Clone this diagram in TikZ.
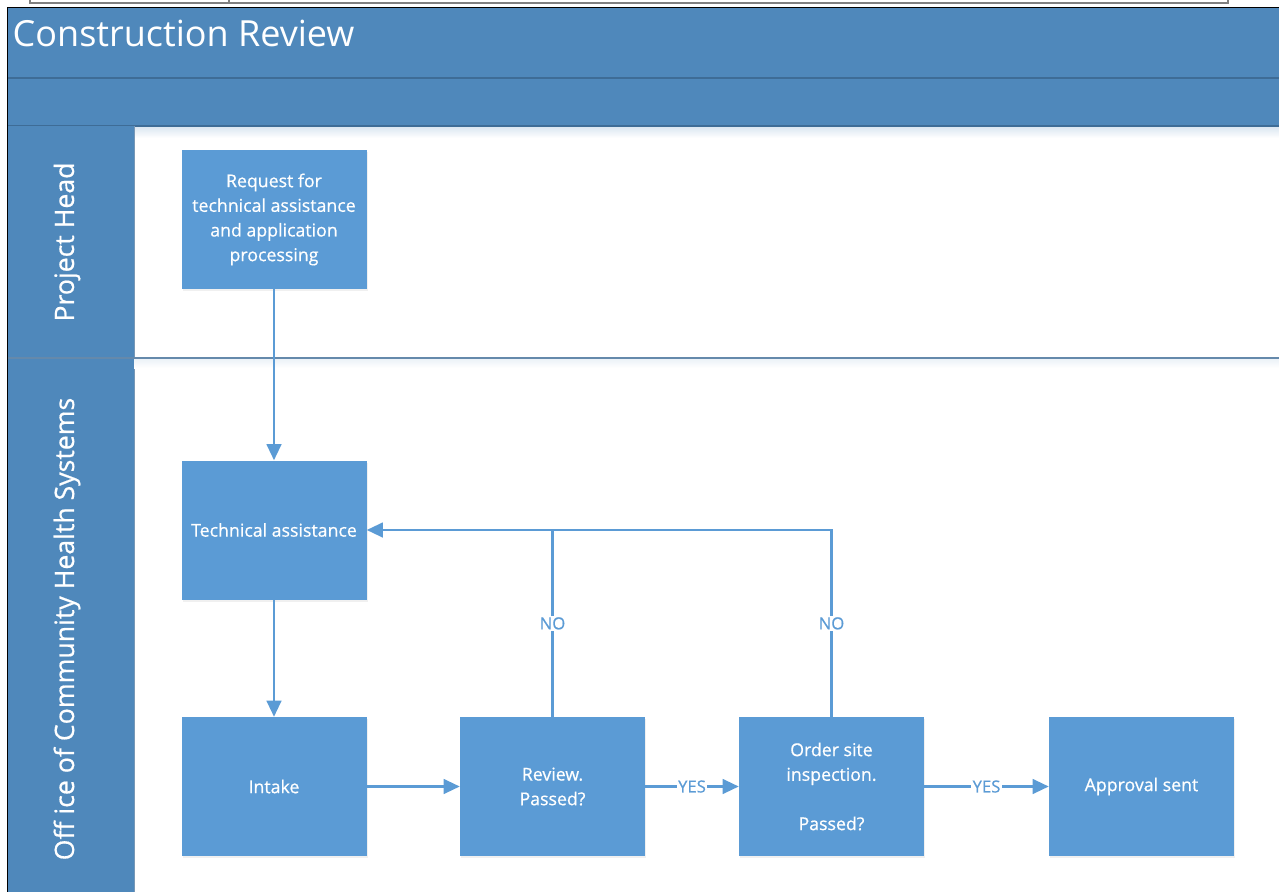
\documentclass[tikz,border=0pt]{standalone}
\usepackage{fontspec}
\setmainfont{Open Sans}
\newfontfamily\heavyfont[FakeBold=0.6]{Open Sans}
\usetikzlibrary{arrows.meta,shadows}
\definecolor{laneblue}{RGB}{79,136,187}
\definecolor{lanerule}{RGB}{62,108,150}
\definecolor{boxblue}{RGB}{91,155,213}
\definecolor{flowblue}{RGB}{91,155,213}
\definecolor{framegray}{RGB}{128,128,128}

\tikzset{
  stepbox/.style={rectangle, fill=boxblue, inner sep=0pt,
    minimum width=138.75pt, minimum height=104.25pt,
    text=white, align=center, font=\heavyfont\fontsize{13.3}{18.5}\selectfont,
    drop shadow={shadow xshift=1pt, shadow yshift=-1.5pt, opacity=0.12}},
  flow/.style={draw=flowblue, line width=1.6pt,
    -{Triangle[length=12pt,width=11pt]}},
  flowlabel/.style={fill=white, text=flowblue, inner sep=1pt,
    font=\heavyfont\fontsize{12.5}{14}\selectfont},
  lanetitle/.style={text=white, rotate=90, font=\heavyfont\fontsize{20}{24}\selectfont}
}

\begin{document}
\begin{tikzpicture}[x=0.75pt,y=0.75pt,yscale=-1,xscale=1]
\useasboundingbox (0,0) rectangle (1279,892);

%Shape: frame left over above the pool
\draw [framegray, line width=1.5pt] (30,-3) -- (30,3) -- (1228,3) -- (1228,-3) ;
\draw [framegray, line width=1.5pt] (229,-3) -- (229,3) ;

%Shape: pool header bands
\fill [laneblue] (8,7) rectangle (1279,126) ;
\draw [lanerule, line width=1pt] (8,78) -- (1279,78) ;
\shade [top color=laneblue!22, bottom color=white] (134,126) rectangle (1279,138) ;
\draw [lanerule, line width=1pt] (8,126) -- (1279,126) ;

%Shape: lane header column
\fill [laneblue] (8,126) rectangle (134,892) ;
\draw [lanerule!70, line width=0.6pt] (134,126) -- (134,892) ;

%Straight Lines: lane divider
\shade [top color=laneblue!12, bottom color=white] (134,358) rectangle (1279,368) ;
\draw [lanerule!80, line width=1.2pt] (8,358) -- (1279,358) ;

%Straight Lines: outer border
\draw [black, line width=0.9pt] (7.5,892) -- (7.5,7.5) -- (1279,7.5) ;

% Text Node
\node [anchor=west, text=white, font=\fontsize{27}{32}\selectfont] (title) at (8,33) {Construction Review};
\node [lanetitle] (headlane) at (67,242) {Project Head};
\node [lanetitle] (officelane) at (67,629) {Off ice of Community Health Systems};

%Process steps
\node [stepbox] (request) at (274,219.5) {Request for\\technical assistance\\and application\\processing};
\node [stepbox] (techassist) at (274,530) {Technical assistance};
\node [stepbox] (intake) at (274,786.5) {Intake};
\node [stepbox] (review) at (552.5,786.5) {Review.\\Passed?};
\node [stepbox] (inspect) at (831.5,786.5) {Order site\\inspection.\\[18.5pt]Passed?};
\node [stepbox] (approval) at (1141.5,786.5) {Approval sent};

%Connectors
\draw [flow] (request) -- (techassist) ;
\draw [flow] (techassist) -- (intake) ;
\draw [flow] (intake) -- (review) ;
\draw [flow] (review) -- node [flowlabel] {YES} (inspect) ;
\draw [flow] (inspect) -- node [flowlabel] {YES} (approval) ;
\draw [flow] (review.north) |- node [flowlabel, pos=0.25] {NO} (techassist.east) ;
\draw [draw=flowblue, line width=1.6pt] (inspect.north) |- node [flowlabel, pos=0.25] {NO} (review.north |- techassist.east) ;

\end{tikzpicture}
\end{document}
